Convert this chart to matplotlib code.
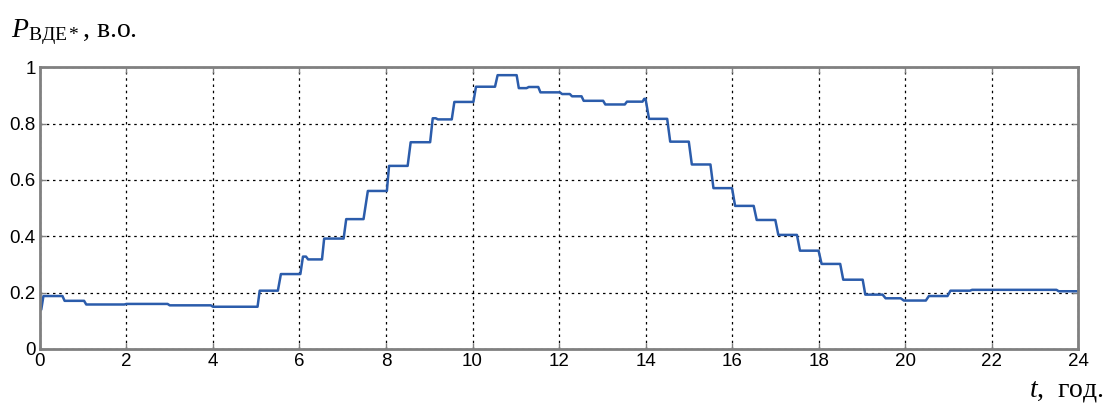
import matplotlib
matplotlib.use("Agg")
import matplotlib.pyplot as plt
import numpy as np

# Step levels: start time, end time, value (p.u.)
step_start = [0.00, 0.08, 0.57, 1.07, 2.00, 3.00, 4.00, 5.08, 5.57, 6.08, 6.20,
              6.57, 7.08, 7.58, 8.07, 8.57, 9.08, 9.20, 9.58, 10.08, 10.58,
              11.07, 11.30, 11.57, 12.07, 12.30, 12.57, 13.07, 13.57, 13.97,
              14.08, 14.57, 15.07, 15.57, 16.07, 16.57, 17.07, 17.57, 18.07,
              18.57, 19.08, 19.55, 19.97, 20.55, 21.05, 21.55, 23.55]
step_end   = [0.03, 0.52, 1.02, 1.95, 2.95, 3.95, 5.03, 5.50, 6.02, 6.15, 6.52,
              7.02, 7.48, 8.02, 8.50, 9.02, 9.15, 9.52, 10.02, 10.52, 11.02,
              11.25, 11.52, 12.02, 12.25, 12.52, 13.02, 13.52, 13.93, 14.00,
              14.50, 15.00, 15.50, 16.00, 16.50, 17.00, 17.50, 18.00, 18.50,
              19.02, 19.48, 19.90, 20.48, 20.98, 21.50, 23.50, 24.00]
step_value = [0.14, 0.188, 0.171, 0.158, 0.160, 0.155, 0.150, 0.207, 0.266, 0.328, 0.318,
              0.392, 0.461, 0.561, 0.650, 0.734, 0.819, 0.815, 0.877, 0.931, 0.972,
              0.926, 0.930, 0.911, 0.905, 0.897, 0.881, 0.868, 0.878, 0.888,
              0.817, 0.736, 0.655, 0.571, 0.508, 0.458, 0.405, 0.349, 0.302,
              0.246, 0.193, 0.180, 0.172, 0.188, 0.207, 0.210, 0.205]

x_ticks = list(range(0, 25, 2))
y_ticks = [0, 0.2, 0.4, 0.6, 0.8, 1.0]
y_tick_labels = ["0", "0.2", "0.4", "0.6", "0.8", "1"]

t_pts, v_pts = [], []
for s, e, v in zip(step_start, step_end, step_value):
    t_pts += [s, e]
    v_pts += [v, v]

plt.rcParams['mathtext.fontset'] = 'custom'
plt.rcParams['mathtext.rm'] = 'Liberation Serif'
plt.rcParams['mathtext.it'] = 'Liberation Serif:italic'

fig = plt.figure(figsize=(11.07, 4.09), dpi=100)
ax = fig.add_axes([0.0361, 0.1467, 0.9378, 0.6888])

ax.plot(t_pts, v_pts, color='#2b5cab', lw=1.8)

ax.set_xlim(0, 24)
ax.set_ylim(0, 1)
ax.set_xticks(x_ticks)
ax.set_yticks(y_ticks)
ax.set_yticklabels(y_tick_labels)
ax.tick_params(direction='in', length=4, width=1, color='#808080',
               labelsize=13.5, pad=3, top=True, right=True)
for lbl in ax.get_xticklabels() + ax.get_yticklabels():
    lbl.set_fontfamily('Liberation Sans')
ax.grid(True, color='black', linestyle=(0, (2, 3)), linewidth=0.9)
for sp in ax.spines.values():
    sp.set_color('#808080')
    sp.set_linewidth(2)

fig.text(0.010, 0.91, r'$P_{\mathrm{ВДЕ*}}$, в.о.', fontsize=20,
         fontfamily='Liberation Serif', ha='left', va='baseline')
fig.text(0.997, 0.03, r'$t$,  год.', fontsize=20,
         fontfamily='Liberation Serif', ha='right', va='baseline')

fig.savefig('out.png', dpi=100)
